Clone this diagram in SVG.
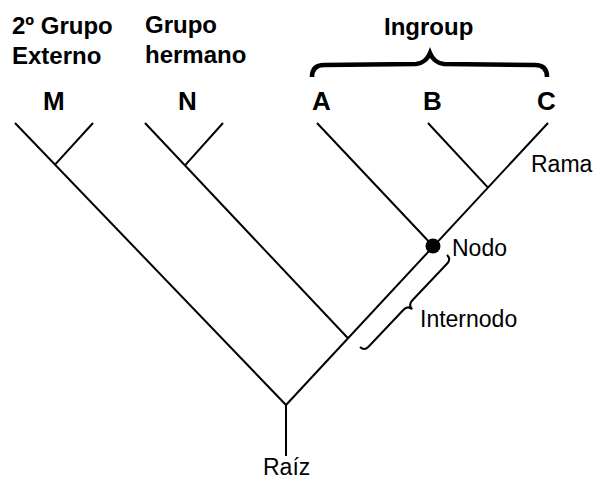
<svg xmlns="http://www.w3.org/2000/svg" width="595" height="481" viewBox="0 0 595 481">
<style>
.ln{stroke:#000;stroke-width:2;fill:none;stroke-linecap:butt}
.hb{font-family:"Liberation Sans",Arial,sans-serif;font-weight:bold;font-size:24px;fill:#000}
.tx{font-family:"Liberation Sans",Arial,sans-serif;font-weight:bold;font-size:26px;fill:#000}
.lb{font-family:"Liberation Sans",Arial,sans-serif;font-size:23px;fill:#000}
</style>
<rect width="595" height="481" fill="#fff"/>
<g id="connectors">
<line class="ln" x1="286" y1="405" x2="286" y2="456"/>
<line class="ln" x1="286" y1="405" x2="15" y2="123"/>
<line class="ln" x1="55" y1="164.6" x2="93" y2="123"/>
<line class="ln" x1="286" y1="405" x2="548" y2="123"/>
<line class="ln" x1="145" y1="123" x2="348" y2="338.3"/>
<line class="ln" x1="185" y1="165.4" x2="223" y2="123"/>
<line class="ln" x1="317" y1="123" x2="433" y2="246"/>
<line class="ln" x1="428" y1="123" x2="488" y2="187.6"/>
</g>
<g id="node-nodo"><circle cx="433" cy="246" r="7.5" fill="#000"/><text class="lb" x="452" y="256">Nodo</text></g>
<g id="label-2grupo"><text class="hb" x="12" y="34">2º Grupo</text><text class="hb" x="12" y="64">Externo</text></g>
<g id="label-hermano"><text class="hb" x="145" y="33">Grupo</text><text class="hb" x="145" y="63">hermano</text></g>
<g id="label-ingroup"><text class="hb" x="384" y="35">Ingroup</text>
<path d="M312,77 Q312,65 324,65 L416,64 Q426,63 430,53 Q434,63 444,64 L535,65 Q547,65 547,77" stroke="#000" stroke-width="4.5" fill="none"/></g>
<g id="taxon-M"><text class="tx" x="43" y="110">M</text></g>
<g id="taxon-N"><text class="tx" x="178" y="110">N</text></g>
<g id="taxon-A"><text class="tx" x="312" y="110">A</text></g>
<g id="taxon-B"><text class="tx" x="423" y="110">B</text></g>
<g id="taxon-C"><text class="tx" x="537" y="110">C</text></g>
<g id="label-rama"><text class="lb" x="531" y="172">Rama</text></g>
<g id="label-internodo">
<path transform="translate(360,347) rotate(-46.6)" d="M0,0 Q0,6 6,6 L57,6 Q63,6 63.3,12 Q63.6,6 69.6,6 L120.6,6 Q126.6,6 126.6,0" stroke="#000" stroke-width="2" fill="none"/>
<text class="lb" x="420" y="327" font-size="24">Internodo</text></g>
<g id="label-raiz"><text class="lb" x="263" y="475">Raíz</text></g>
</svg>
